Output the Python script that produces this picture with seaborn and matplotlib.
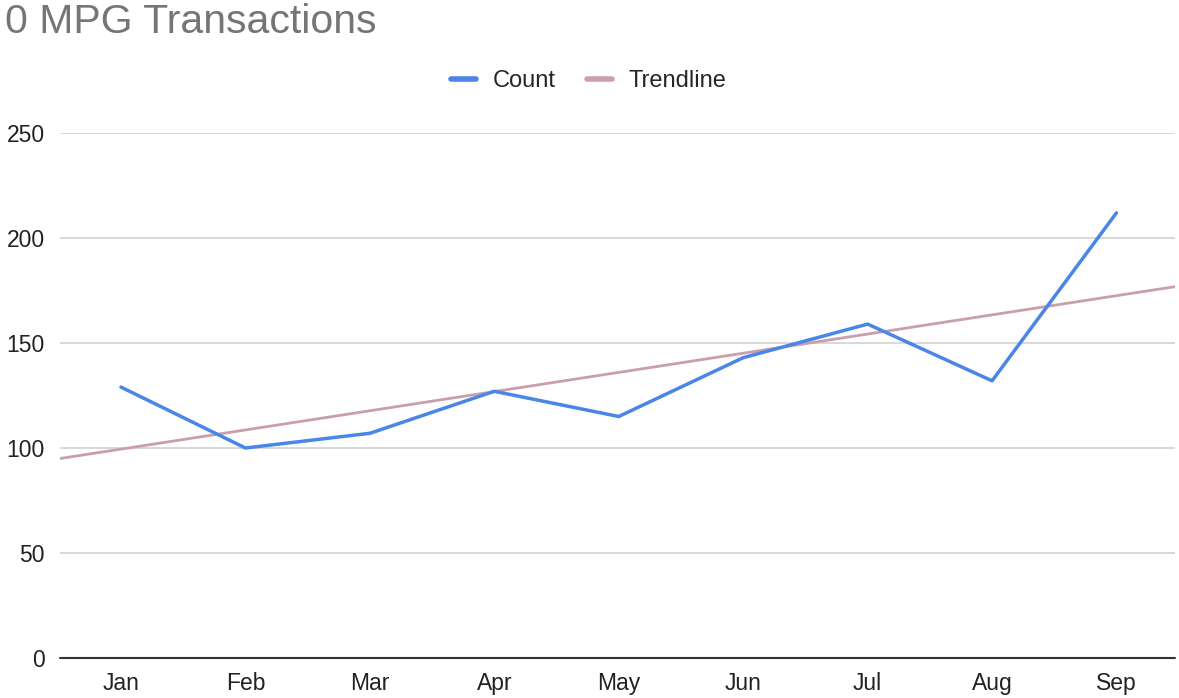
import matplotlib
matplotlib.use("Agg")
import matplotlib.pyplot as plt
import seaborn as sns
import numpy as np
import pandas as pd
from matplotlib.lines import Line2D

months = ["Jan", "Feb", "Mar", "Apr", "May", "Jun", "Jul", "Aug", "Sep"]
counts = [129, 100, 107, 127, 115, 143, 159, 132, 212]
y_ticks = [0, 50, 100, 150, 200, 250]

sns.set_theme(style="white")
plt.rcParams["font.family"] = ["Liberation Sans", "DejaVu Sans"]

df = pd.DataFrame({"idx": np.arange(len(months)), "month": months, "count": counts})

fig = plt.figure(figsize=(11.79, 6.98), dpi=100)
ax = fig.add_axes([60 / 1179, 1 - 658 / 698, (1175 - 60) / 1179, (658 - 133) / 698])

ax.set_xlim(-0.49, len(months) - 0.53)
ax.set_ylim(0, 250)

blue = "#4a86e8"
mauve = "#c9a0aa"

sns.regplot(data=df, x="idx", y="count", ax=ax, scatter=False, ci=None,
            truncate=False, color=mauve, line_kws={"lw": 2, "zorder": 2})
sns.lineplot(data=df, x="idx", y="count", ax=ax, color=blue, lw=2.5, zorder=3)

ax.set_yticks(y_ticks)
ax.set_yticklabels([str(v) for v in y_ticks])
ax.set_xticks(df["idx"])
ax.set_xticklabels(months)
ax.tick_params(axis="both", length=0, labelsize=16.5, colors="#222222")
ax.tick_params(axis="x", pad=10)
ax.tick_params(axis="y", pad=11)
ax.set_xlabel("")
ax.set_ylabel("")

for v in y_ticks[1:]:
    ax.axhline(v, color="#d6d6d6", lw=1.3, zorder=1)
ax.axhline(0, color="#333333", lw=1.5, zorder=4, clip_on=False)

for s in ax.spines.values():
    s.set_visible(False)

handles = [Line2D([0], [0], color=blue, lw=4), Line2D([0], [0], color=mauve, lw=4)]
fig.legend(handles, ["Count", "Trendline"], loc="center", bbox_to_anchor=(589 / 1179, 1 - 81 / 698),
           ncol=2, frameon=False, fontsize=17, handlelength=1.05, handletextpad=0.72,
           columnspacing=1.3)

fig.text(5 / 1179, 1 - 22 / 698, "0 MPG Transactions", fontsize=29.5, color="#757575",
         ha="left", va="center")

fig.savefig("out.png", dpi=100)
